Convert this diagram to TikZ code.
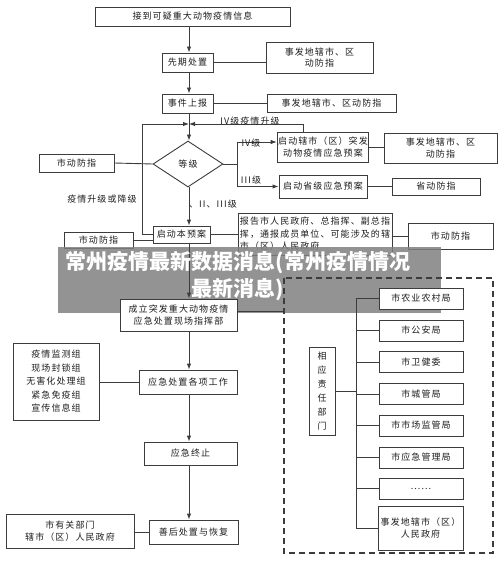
\documentclass[tikz,border=0pt]{standalone}
\usepackage{fontspec}
\newfontfamily\cjk[LetterSpace=12]{Noto Sans CJK SC}
\newfontfamily\cjkmark{Noto Sans CJK SC}
\usetikzlibrary{shapes.geometric,arrows.meta}
\definecolor{linec}{RGB}{60,60,60}
\definecolor{textc}{RGB}{30,30,30}
\definecolor{bannerc}{RGB}{128,128,128}
\tikzset{
	box/.style={draw=linec,line width=0.9pt,fill=white,text=textc,align=center,inner sep=1pt,font=\cjk\fontsize{9}{11.5}\selectfont},
	lbl/.style={text=textc,inner sep=0.5pt,font=\cjk\fontsize{9}{11}\selectfont},
	link/.style={draw=linec,line width=0.9pt},
	arr/.style={link,-{Latex[length=6pt,width=4.5pt]}},
}
\begin{document}
\begin{tikzpicture}[x=1pt,y=1pt,yscale=-1,xscale=1]
	\useasboundingbox (0,0) rectangle (500,561);
	\coordinate (spine) at (189,0);
	\coordinate (bus) at (356,0);
	\coordinate (jn) at (189,124);
	% upper part
	\node[box,minimum width=195pt,minimum height=19pt] (info) at (192.5,16.5) {接到可疑重大动物疫情信息};
	\node[box,minimum width=51pt,minimum height=19pt] (early) at (187.5,62.5) {先期处置};
	\node[box,minimum width=51pt,minimum height=19pt] (report) at (187.5,103.5) {事件上报};
	\node[box,shape=diamond,minimum width=70pt,minimum height=46pt,inner sep=0pt] (grade) at (188,164) {等级};
	\node[box,minimum width=57pt,minimum height=17pt] (plan) at (181.5,234.5) {启动本预案};
	\node[box,minimum width=107pt,minimum height=31pt] (ctyA) at (319.5,57.5) {事发地辖市、区\\动防指};
	\node[box,minimum width=129pt,minimum height=18pt] (ctyB) at (331.5,103) {事发地辖市、区动防指};
	\node[box,minimum width=88pt,minimum height=30pt] (cityPlan) at (323,147) {启动辖市（区）突发\\动物疫情应急预案};
	\node[box,minimum width=88pt,minimum height=23pt] (provPlan) at (323,186.5) {启动省级应急预案};
	\node[box,minimum width=113pt,minimum height=30pt] (ctyC) at (440.5,148) {事发地辖市、区\\动防指};
	\node[box,minimum width=88pt,minimum height=17pt] (prov) at (436,186.5) {省动防指};
	\node[box,minimum width=75pt,minimum height=18pt] (cityL1) at (76.5,163) {市动防指};
	\node[box,minimum width=69pt,minimum height=16pt] (cityL2) at (98.5,240) {市动防指};
	\node[box,align=left,minimum width=154pt,minimum height=42pt,font=\cjk\fontsize{9}{12.5}\selectfont] (notify) at (315,234) {报告市人民政府、总指挥、副总指\\挥，通报成员单位、可能涉及的辖\\市（区）人民政府};
	\node[box,minimum width=85pt,minimum height=26pt] (cityR) at (450.5,236) {市动防指};
	\draw[arr] (info.south -| spine) -- (early.north -| spine);
	\draw[arr] (early.south -| spine) -- (report.north -| spine);
	\draw[arr] (report.south -| spine) -- (grade.north -| spine);
	\draw[link] (early.east) -- (early.east -| ctyA.west);
	\draw[link] (report.east) -- (report.east -| ctyB.west);
	\draw[arr] ([xshift=-20pt]cityPlan.north) |- (jn);
	\draw[arr] (plan.west) -- ++(-10,0) |- (jn);
	\draw[link] (grade.west) -- (cityL1.east);
	\draw[link] (grade.east) -- ++(14,0) coordinate (split);
	\draw[arr] (split) |- ([yshift=-5pt]cityPlan.west);
	\draw[arr] (split) |- (provPlan.west);
	\draw[link] (cityPlan.east) -- (cityPlan.east -| ctyC.west);
	\draw[link] (provPlan.east) -- (prov.west);
	\draw[arr] (grade.south -| spine) -- (plan.north -| spine);
	\draw[link] (cityL2.east) -- (cityL2.east -| plan.west);
	\draw[link] (plan.east) -- (plan.east -| notify.west);
	\draw[link] (notify.east |- cityR.west) -- (cityR.west);
	\node[lbl] (lblUp) at (250,121) {IV级疫情升级};
	\node[lbl] (lblIV) at (251,143) {IV级};
	\node[lbl] (lblIII) at (251,180) {III级};
	\node[lbl] (lblLow) at (213,204) {、II、III级};
	\node[lbl] (lblBack) at (102,199) {疫情升级或降级};
	% banner
	\fill[bannerc,opacity=0.85] (58,247) rectangle (441,313);
	% lower part
	\node[box,minimum width=117pt,minimum height=32pt] (hq) at (178.5,315) {成立突发重大动物疫情\\应急处置现场指挥部};
	\node[box,minimum width=98pt,minimum height=24pt] (work) at (188,382) {应急处置各项工作};
	\node[box,minimum width=93pt,minimum height=23pt] (stop) at (190.5,453.5) {应急终止};
	\node[box,minimum width=89pt,minimum height=24pt] (after) at (193.5,532) {善后处置与恢复};
	\node[box,minimum width=86pt,minimum height=77pt,font=\cjk\fontsize{9}{13.5}\selectfont] (groups) at (56,381.5) {疫情监测组\\现场封锁组\\无害化处理组\\紧急免疫组\\宣传信息组};
	\node[box,minimum width=128pt,minimum height=34pt] (dept) at (70,531) {市有关部门\\辖市（区）人民政府};
	\draw[linec,line width=1.6pt,dash pattern=on 6pt off 4pt] (284,278) coordinate (dashNW) rectangle (493,553);
	\node[box,minimum width=26pt,minimum height=88pt,font=\cjk\fontsize{9}{14}\selectfont] (resp) at (322,391) {相\\应\\责\\任\\部\\门};
	\node[box,minimum width=84pt,minimum height=21pt] (d1) at (421,298.5) {市农业农村局};
	\node[box,minimum width=84pt,minimum height=21pt] (d2) at (421,330.5) {市公安局};
	\node[box,minimum width=84pt,minimum height=21pt] (d3) at (421,362) {市卫健委};
	\node[box,minimum width=84pt,minimum height=21pt] (d4) at (421,394) {市城管局};
	\node[box,minimum width=84pt,minimum height=21pt] (d5) at (421,425.5) {市市场监管局};
	\node[box,minimum width=84pt,minimum height=21pt] (d6) at (421,457.5) {市应急管理局};
	\node[box,minimum width=84pt,minimum height=21pt] (d7) at (421,488.5) {......};
	\node[box,minimum width=85pt,minimum height=44pt] (d8) at (420.5,528) {事发地辖市（区）\\人民政府};
	\draw[arr] (plan.south -| spine) -- (hq.north -| spine);
	\draw[link] ([yshift=-4pt]hq.east) -- ([yshift=-4pt]hq.east -| dashNW);
	\draw[arr] (hq.south -| spine) -- (work.north -| spine);
	\draw[link] (groups.east |- work.west) -- (work.west);
	\draw[arr] (work.south -| spine) -- (stop.north -| spine);
	\draw[arr] (stop.south -| spine) -- (after.north -| spine);
	\draw[link] (dept.east |- after.west) -- (after.west);
	\draw[link] (resp.east) -- (resp.east -| bus);
	\draw[link] (d1.west -| bus) -- (d8.west -| bus);
	\foreach \d in {d1,d2,d3,d4,d5,d6,d7,d8}
		\draw[link] (\d.west -| bus) -- (\d.west);
	% banner text
	\node[text=white,align=center,inner sep=0pt,font=\cjkmark\bfseries\fontsize{21}{27}\selectfont] (banner) at (238,276) {常州疫情最新数据消息(常州疫情情况\\最新消息)};
\end{tikzpicture}
\end{document}
